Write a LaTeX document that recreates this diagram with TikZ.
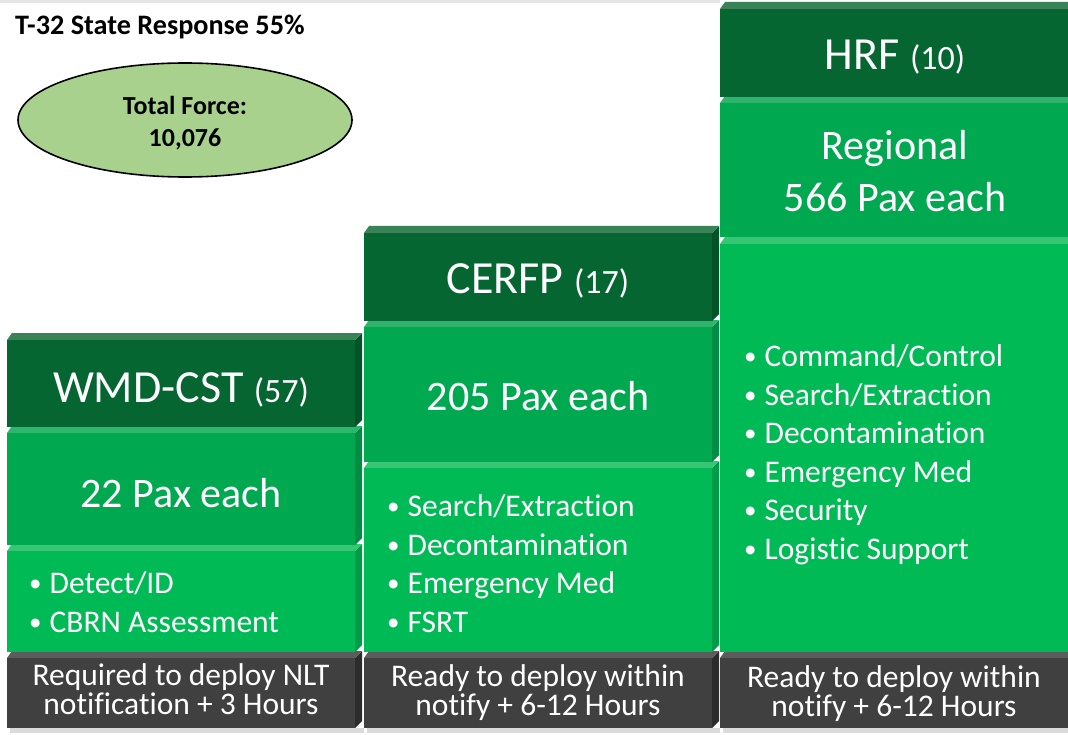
\documentclass[tikz,border=0pt]{standalone}
\usepackage{fontspec}
\setmainfont{Carlito}[Ligatures=NoCommon]
\usetikzlibrary{shapes.geometric}
\definecolor{hdr}{RGB}{5,102,50}
\definecolor{hdrtop}{RGB}{58,130,88}
\definecolor{hdrside}{RGB}{4,82,40}
\definecolor{mid}{RGB}{0,168,80}
\definecolor{midtop}{RGB}{45,182,108}
\definecolor{midside}{RGB}{0,140,66}
\definecolor{bul}{RGB}{0,186,85}
\definecolor{bultop}{RGB}{55,198,115}
\definecolor{bulside}{RGB}{0,155,70}
\definecolor{gry}{RGB}{64,64,64}
\definecolor{grytop}{RGB}{92,92,92}
\definecolor{gryside}{RGB}{44,44,44}
\definecolor{ellfill}{RGB}{169,209,142}
\newcommand\bevbox[5]{%
  \fill[#5side] (#2,#3) -- (#2+7,#3-7) -- (#2+7,#4-7) -- (#2,#4) -- cycle;
  \fill[#5top] (#1,#3) -- (#1+5,#3-7) -- (#2+7,#3-7) -- (#2,#3) -- cycle;
  \fill[#5] (#1,#3) rectangle (#2,#4);}
\tikzset{
  big/.style={text=white, font=\fontsize{46}{50}\selectfont, anchor=base, inner sep=0pt},
  pax/.style={text=white, font=\fontsize{42}{52}\selectfont, anchor=base, inner sep=0pt, align=center},
  bullets/.style={text=white, font=\fontsize{31.5}{38.5}\selectfont, anchor=base west, inner sep=0pt, align=left},
  foot/.style={text=white, font=\fontsize{31.5}{29}\selectfont, anchor=base, inner sep=0pt, align=center},
  shadowbar/.style={fill=black!14},
}
\newcommand\sm[1]{{\fontsize{34}{40}\selectfont #1}}
\newcommand\bu{\raisebox{2pt}{\fontsize{25}{25}\selectfont •}\hspace{8pt}}
\begin{document}
\begin{tikzpicture}[x=1pt,y=-1pt]
\useasboundingbox (0,0) rectangle (1068,735);
\fill[white] (0,0) rectangle (1068,735);
\fill[black!10] (0,0) rectangle (720,3);
% shadows
\fill[shadowbar] (10,728) rectangle (364,733);
\fill[shadowbar] (367,728) rectangle (720,733);
\fill[shadowbar] (723,728) rectangle (1068,733);
% column 1
\bevbox{7}{355}{658}{728}{gry}
\bevbox{7}{355}{551}{652}{bul}
\bevbox{7}{355}{433}{545}{mid}
\bevbox{7}{355}{340}{427}{hdr}
% column 2
\bevbox{364}{712}{658}{728}{gry}
\bevbox{364}{712}{468}{652}{bul}
\bevbox{364}{712}{327}{462}{mid}
\bevbox{364}{712}{233}{321}{hdr}
% column 3
\bevbox{720}{1068}{658}{728}{gry}
\bevbox{720}{1068}{244}{652}{bul}
\bevbox{720}{1068}{103}{237}{mid}
\bevbox{720}{1068}{9}{97}{hdr}
% title and ellipse
\node[anchor=base west, inner sep=0pt, font=\bfseries\fontsize{28.2}{30}\selectfont] (title) at (15,35) {T-32 State Response 55\%};
\node[ellipse, draw=black, line width=1.6pt, fill=ellfill, minimum width=334pt, minimum height=114pt, inner sep=0pt] (total) at (185,120) {};
\node[anchor=base, inner sep=0pt, font=\bfseries\fontsize{26}{30}\selectfont, align=center] (totaltxt) at (185,147) {Total Force:\\[2pt]10,076};
% column 1 text
\node[big] (wmd) at (181,402) {WMD-CST \sm{(57)}};
\node[pax] (wmdpax) at (181,507) {22 Pax each};
\node[bullets] (wmdbul) at (29,632) {\bu Detect/ID\\\bu CBRN Assessment};
\node[foot] (wmdfoot) at (181,714) {Required to deploy NLT\\notification + 3 Hours};
% column 2 text
\node[big] (cerfp) at (538,294) {CERFP \sm{(17)}};
\node[pax] (cerfppax) at (538,410) {205 Pax each};
\node[bullets] (cerfpbul) at (387,632) {\bu Search/Extraction\\\bu Decontamination\\\bu Emergency Med\\\bu FSRT};
\node[foot] (cerfpfoot) at (538,715) {Ready to deploy within\\notify + 6-12 Hours};
% column 3 text
\node[big] (hrf) at (895,70) {HRF \sm{(10)}};
\node[pax] (hrfpax) at (895,212) {Regional\\566 Pax each};
\node[bullets] (hrfbul) at (744,559) {\bu Command/Control\\\bu Search/Extraction\\\bu Decontamination\\\bu Emergency Med\\\bu Security\\\bu Logistic Support};
\node[foot] (hrffoot) at (894,716) {Ready to deploy within\\notify + 6-12 Hours};
\end{tikzpicture}
\end{document}
